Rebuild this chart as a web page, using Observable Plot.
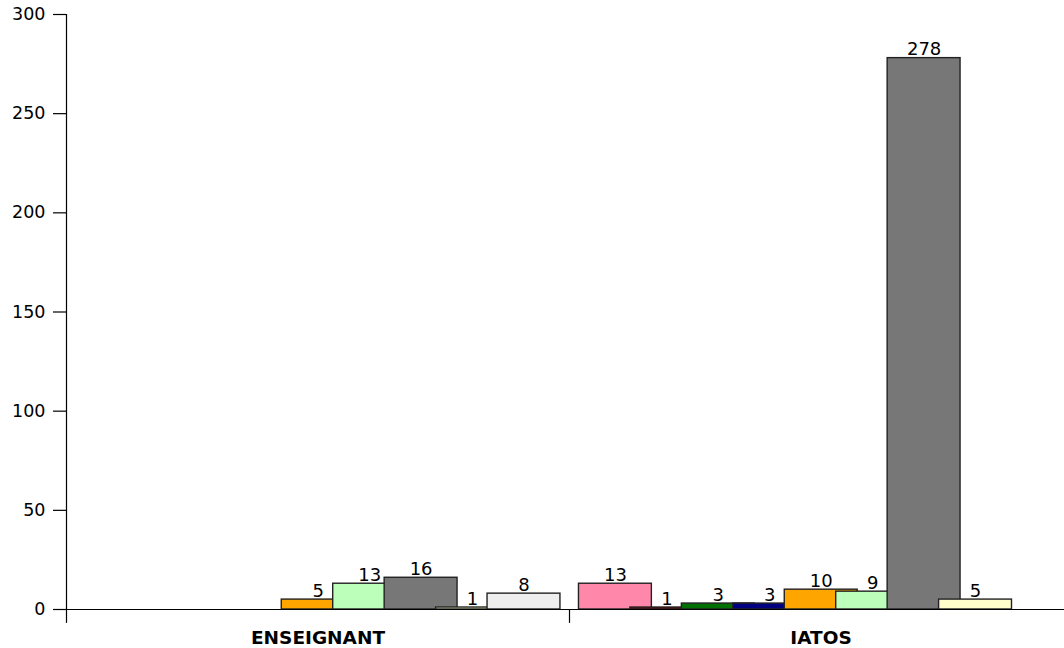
<!DOCTYPE html>
<html>
<head>
<meta charset="utf-8">
<script src="https://cdn.jsdelivr.net/npm/d3@7"></script>
<script src="https://cdn.jsdelivr.net/npm/@observablehq/plot@0.6"></script>
<style>
  html, body { margin: 0; padding: 0; background: #fff; overflow: hidden; }
  #chart svg { display: block; max-width: none !important; }
</style>
</head>
<body>
<div id="chart"></div>
<script>
// Categories (groups along x)
const categories = ["ENSEIGNANT", "IATOS"];
// Series colours (no legend in the original), in drawing order
const seriesColors = ["#ff88aa", "#800000", "#007000", "#000080", "#ffa500", "#bbffbb", "#777777", "#ffffcc", "#eeeeee"];
// Values per group, one per series (null = no bar)
const enseignantValues = [null, null, null, null, 5, 13, 16, 1, 8];
const iatosValues = [13, 1, 3, 3, 10, 9, 278, 5, null];
// Y axis ticks
const yTicks = [0, 50, 100, 150, 200, 250, 300];

const valuesByGroup = [enseignantValues, iatosValues];
const rows = [];
categories.forEach((g, gi) => {
  valuesByGroup[gi].forEach((v, i) => {
    if (v != null) rows.push({group: g, series: i, value: v, color: seriesColors[i]});
  });
});

const barW = 1.417; // bar width in series-step units (bars overlap the next series)
const font = "DejaVu Sans, Liberation Sans, Arial, sans-serif";

const chart = Plot.plot({
  width: 1072,
  height: 648,
  marginLeft: 65,
  marginRight: 0,
  marginTop: 14,
  marginBottom: 39,
  style: {fontFamily: font, fontSize: "17px", color: "#000", background: "#fff", maxWidth: "none"},
  fx: {domain: categories, padding: 0, label: null},
  x: {domain: [-0.184, 9.593], axis: null},
  y: {domain: [0, 300], label: null},
  marks: [
    Plot.rect(rows, {
      fx: "group",
      x1: "series",
      x2: d => d.series + barW,
      y1: 0,
      y2: "value",
      fill: "color",
      stroke: "#222",
      strokeWidth: 1.4
    }),
    Plot.text(rows, {
      fx: "group",
      x: d => d.series + barW / 2,
      y: "value",
      text: d => String(d.value),
      lineAnchor: "bottom",
      dy: -3,
      fill: "#000",
      fontSize: 18
    }),
    Plot.ruleY([0], {stroke: "#000", strokeWidth: 1.2}),
    // group separators (left edge of each group) extending below the axis
    Plot.ruleX(categories, {fx: d => d, x: () => -0.184, y1: -7, y2: 0, stroke: "#000", strokeWidth: 1.2}),
    // y axis line
    Plot.ruleX([categories[0]], {fx: d => d, x: () => -0.184, y1: 0, y2: 300, stroke: "#000", strokeWidth: 1.2}),
    Plot.axisY({ticks: yTicks, tickSize: 13, tickPadding: 8, tickFormat: d => String(d), fontSize: 17.5, stroke: "#000", strokeWidth: 1.2, label: null}),
    Plot.axisFx({anchor: "bottom", tickSize: 0, tickPadding: 21, fontWeight: "bold", fontSize: 18.5, label: null})
  ]
});
document.getElementById("chart").appendChild(chart);
</script>
</body>
</html>
